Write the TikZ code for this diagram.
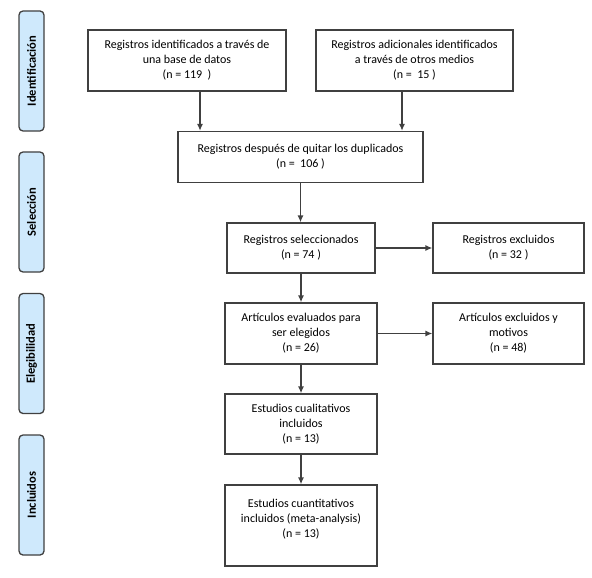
\documentclass[tikz,border=0pt]{standalone}
\usepackage{fontspec}
\setmainfont{Carlito}
\usetikzlibrary{arrows.meta}
\definecolor{stroke}{HTML}{404040}
\definecolor{sidefill}{HTML}{CFE9FC}
\tikzset{
  flowbox/.style={draw=stroke, line width=1.3bp, fill=white, inner sep=0pt, align=center,
     font=\fontsize{12bp}{15bp}\selectfont, text=black},
  sidebox/.style={draw=stroke, line width=1.3bp, fill=sidefill, rounded corners=4bp, inner sep=0pt,
     rotate=90, minimum width=120bp, minimum height=25bp, font=\bfseries\fontsize{12.5bp}{14bp}\selectfont},
  flowarrow/.style={draw=stroke, line width=1.3bp, -{Latex[length=7bp,width=6bp]}}
}
\begin{document}
\begin{tikzpicture}[x=1bp,y=-1bp]
\useasboundingbox (0,0) rectangle (592,578);
% side labels
\node[sidebox] (sid) at (31.5,71) {Identificación};
\node[sidebox] (ssel) at (31.5,212) {Selección};
\node[sidebox] (selg) at (31.5,353.5) {Elegibilidad};
\node[sidebox] (sinc) at (31.5,495) {Incluidos};
% boxes
\node[flowbox, minimum width=198bp, minimum height=61bp] (b1) at (187,60.5)
  {Registros identificados a través de\\una base de datos\\(n = 119~~)};
\node[flowbox, minimum width=197bp, minimum height=61bp] (b2) at (414.5,60.5)
  {Registros adicionales identificados\\a través de otros medios\\(n =~~15 )};
\node[flowbox, minimum width=245bp, minimum height=51bp] (b3) at (300.5,157)
  {Registros después de quitar los duplicados\\(n =~~106 )};
\node[flowbox, minimum width=148bp, minimum height=50bp] (b4) at (301,248)
  {Registros seleccionados\\(n = 74 )};
\node[flowbox, minimum width=151bp, minimum height=50bp] (b5) at (508.5,248)
  {Registros excluidos\\(n = 32 )};
\node[flowbox, minimum width=152bp, minimum height=61bp] (b6) at (301,333.5)
  {Artículos evaluados para\\ser elegidos\\(n = 26)};
\node[flowbox, minimum width=151bp, minimum height=61bp] (b7) at (508.5,333.5)
  {Artículos excluidos y\\motivos\\(n = 48)};
\node[flowbox, minimum width=152bp, minimum height=60bp] (b8) at (301,424)
  {Estudios cualitativos\\incluidos\\(n = 13)};
\node[flowbox, minimum width=152bp, minimum height=81bp] (b9) at (301,525.5)
  {Estudios cuantitativos\\incluidos (meta-analysis)\\(n = 13)\\\mbox{}};
% arrows
\draw[flowarrow] ([xshift=13bp]b1.south) -- ([xshift=13bp]b1.south |- b3.north);
\draw[flowarrow] ([xshift=-12.5bp]b2.south) -- ([xshift=-12.5bp]b2.south |- b3.north);
\draw[flowarrow] (b3.south) -- (b3.south |- b4.north);
\draw[flowarrow] (b4.east) -- (b5.west);
\draw[flowarrow] (b4.south) -- (b6.north);
\draw[flowarrow] (b6.east) -- (b7.west);
\draw[flowarrow] (b6.south) -- (b8.north);
\draw[flowarrow] (b8.south) -- (b9.north);
\end{tikzpicture}
\end{document}
